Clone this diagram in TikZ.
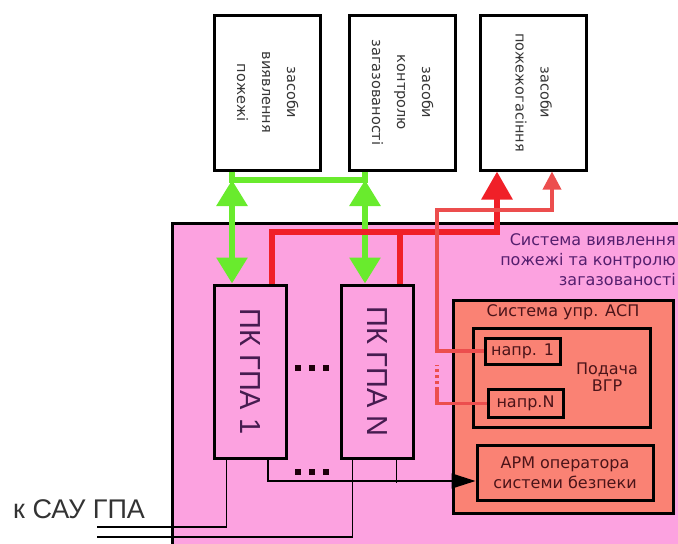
\documentclass[tikz,border=0pt]{standalone}
\usepackage{fontspec}
\setmainfont{Liberation Sans}
\newfontfamily\dejavu{DejaVu Sans}
\usepackage{graphicx}
\usepackage{tikz}
\usetikzlibrary{arrows.meta, calc}
\definecolor{pinkfill}{RGB}{252,162,224}
\definecolor{salmonfill}{RGB}{250,130,116}
\definecolor{busgreen}{RGB}{105,235,45}
\definecolor{busred}{RGB}{240,32,40}
\definecolor{lightred}{RGB}{236,78,78}
\definecolor{meanstext}{RGB}{55,55,55}
\definecolor{pktext}{RGB}{70,28,80}
\definecolor{asutext}{RGB}{85,30,110}
\definecolor{asptext}{RGB}{75,20,25}

\begin{document}
\begin{tikzpicture}[x=1pt,y=-1pt]

    \tikzset{meansbox/.style={draw=black, line width=3pt, fill=white, minimum width=106, minimum height=155, inner sep=0pt, text=meanstext, font=\dejavu\fontsize{14.5}{25}\selectfont}}
    \tikzset{pkbox/.style={draw=black, line width=3pt, fill=pinkfill, minimum width=72, minimum height=173, inner sep=0pt, text=pktext, font=\fontsize{29}{30}\selectfont}}
    \tikzset{aspbox/.style={draw=black, line width=3pt, fill=salmonfill, inner sep=0pt}}
    \tikzset{smalltext/.style={inner sep=0pt, text=asptext, font=\dejavu\fontsize{16}{20}\selectfont}}
    \tikzset{greenbus/.style={draw=busgreen, line width=6pt}}
    \tikzset{redbus/.style={draw=busred, line width=6pt}}
    \tikzset{thinred/.style={draw=lightred, line width=3.5pt}}
    \tikzset{wire/.style={draw=black, line width=1.6pt}}
    \tikzset{dotrow/.style={inner sep=0pt, text=black!85!purple}}

    \useasboundingbox (0,0) rectangle (678,544);

    % system area
    \fill[pinkfill] (172,223) rectangle (678,544);
    \draw[line width=3pt] (172,544) -- (172,223) -- (678,223);
    \node[smalltext, text=asutext, align=right, anchor=north east] (asulabel) at (676,233) {Система виявлення\\пожежі та контролю\\загазованості};

    \node[meansbox] (detect) at (267,92.5) {\rotatebox{-90}{\begin{tabular}{@{}c@{}}засоби\\виявлення\\пожежі\end{tabular}}};
    \node[meansbox] (control) at (402,92.5) {\rotatebox{-90}{\begin{tabular}{@{}c@{}}засоби\\контролю\\загазованості\end{tabular}}};
    \node[meansbox] (extinguish) at (533,92.5) {\rotatebox{-90}{\begin{tabular}{@{}c@{}}засоби\\пожежогасіння\end{tabular}}};

    \node[pkbox] (pk1) at (250,371.5) {\rotatebox{-90}{ПК ГПА 1}};
    \node[pkbox] (pkN) at (377,371.5) {\rotatebox{-90}{ПК ГПА N}};
    \node[dotrow] (dotsmid) at (312,368) {\rule{6pt}{6pt}\hspace{8pt}\rule{6pt}{6pt}\hspace{8pt}\rule{6pt}{6pt}};
    \node[dotrow] (dotslow) at (312,472) {\rule{6pt}{6pt}\hspace{8pt}\rule{6pt}{6pt}\hspace{8pt}\rule{6pt}{6pt}};

    \node[aspbox, minimum width=220, minimum height=213] (asp) at (563,406.5) {};
    \node[smalltext] (asptitle) at (563,312) {Система упр. АСП};
    \node[aspbox, minimum width=177, minimum height=99] (supply) at (561.5,377.5) {};
    \node[smalltext, align=center, font=\dejavu\fontsize{16}{17}\selectfont] (supplytext) at (607,377) {Подача\\ВГР};
    \node[aspbox, smalltext, minimum width=75, minimum height=26] (nap1) at (522.5,351) {напр. 1};
    \node[aspbox, smalltext, minimum width=75, minimum height=28] (napN) at (525.5,403.5) {напр.N};
    \node[aspbox, smalltext, align=center, minimum width=176, minimum height=55] (arm) at (565,472.5) {АРМ оператора\\системи безпеки};

    \node[anchor=base west, inner sep=0pt, text=black!80, font=\fontsize{27}{28}\selectfont] (sau) at (13,518) {к САУ ГПА};

    % green links
    \coordinate (g1) at (232,180);
    \coordinate (g2) at (365,180);
    \draw[greenbus] (detect.south -| g1) -- (g1) -- (g2) -- (control.south -| g2);
    \draw[greenbus, {Triangle[width=30pt,length=26pt]}-{Triangle[width=30pt,length=26pt]}] (g1) -- (pk1.north -| g1);
    \draw[greenbus, {Triangle[width=30pt,length=26pt]}-{Triangle[width=30pt,length=26pt]}] (g2) -- (pkN.north -| g2);

    % red links
    \coordinate (r1) at (272,232);
    \coordinate (r2) at (497,232);
    \coordinate (rN) at (400,232);
    \draw[redbus, -{Triangle[width=30pt,length=28pt]}] (pk1.north -| r1) -- (r1) -- (r2) -- (extinguish.south -| r2);
    \draw[redbus] (pkN.north -| rN) -- (rN);

    \coordinate (t1) at (437,210);
    \coordinate (t2) at (552,210);
    \coordinate (t3) at (437,390);
    \coordinate (t4) at (437,365);
    \draw[thinred, -{Triangle[width=18pt,length=18pt]}] (nap1.west) -| (t1) -- (t2) -- (extinguish.south -| t2);
    \draw[thinred] (napN.west) -| (t3);
    \draw[thinred, dash pattern=on 3pt off 3pt] (t3) -- (t4);

    % wires to SAU and operator
    \coordinate (s1) at (97,527);
    \coordinate (s2) at (97,537);
    \coordinate (a1) at (268,481);
    \draw[wire] ($(pk1.south west)+(14,0)$) |- (s1);
    \draw[wire] ($(pkN.south west)+(13,0)$) |- (s2);
    \draw[wire, -{Triangle[width=15pt,length=24pt]}] (pk1.south -| a1) -- (a1) -- ($(arm.west)+(0,8.5)$);
    \draw[wire] ($(pkN.south west)+(57,0)$) -- ++(0,23);

\end{tikzpicture}
\end{document}
